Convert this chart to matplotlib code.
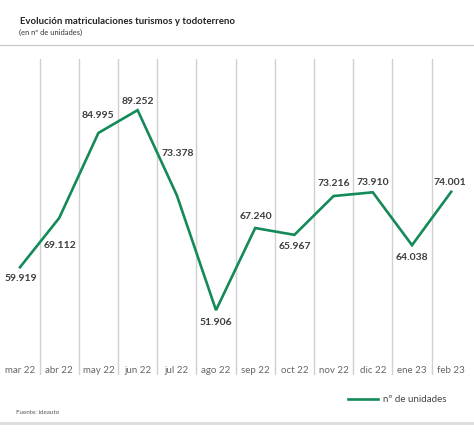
import matplotlib
matplotlib.use("Agg")
from matplotlib import pyplot as plt
from matplotlib.lines import Line2D

months = ["mar 22", "abr 22", "may 22", "jun 22", "jul 22", "ago 22",
          "sep 22", "oct 22", "nov 22", "dic 22", "ene 23", "feb 23"]
units = [59.919, 69.112, 84.995, 89.252, 73.378, 51.906,
         67.240, 65.967, 73.216, 73.910, 64.038, 74.001]
value_labels = ["59.919", "69.112", "84.995", "89.252", "73.378", "51.906",
                "67.240", "65.967", "73.216", "73.910", "64.038", "74.001"]

# label offsets in pixels (dx, dy)
label_offsets = [(1, -11), (1, -27), (0, 17), (0, 9), (1, 42), (0, -12),
                 (1, 12), (0, -12), (0, 13), (0, 10), (0, -12), (-1, 9)]

green = "#138a58"
plt.rcParams["font.family"] = ["Lato", "DejaVu Sans"]

W, H = 474, 434
fig = plt.figure(figsize=(W / 100, H / 100), dpi=100)
ax = fig.add_axes([0.4 / W, 1 - 375 / H, 470.4 / W, 316 / H])

x = list(range(len(months)))
ax.plot(x, units, color=green, linewidth=1.9, solid_joinstyle="miter")
ax.set_xlim(-0.5, len(months) - 0.5)
ax.set_ylim(39.8, 98.8)

for xi, v, lab, (dx, dy) in zip(x, units, value_labels, label_offsets):
    ax.annotate(lab, (xi, v), xytext=(dx * 0.72, dy * 0.72), textcoords="offset points",
                ha="center", va="center", fontsize=7.5, fontweight="bold", color="#3d3d3d")

ax.set_xticks(x)
ax.set_xticklabels(months, fontsize=7, color="#666666")
ax.set_xticks([i + 0.5 for i in x[:-1]], minor=True)
ax.tick_params(axis="x", which="both", length=0, pad=-6.4)
ax.grid(True, which="minor", axis="x", color="#d0d0d0", linewidth=1)
ax.set_yticks([])
for s in ax.spines.values():
    s.set_visible(False)

fig.text(20 / W, 1 - 22 / H, "Evolución matriculaciones turismos y todoterreno",
         fontsize=6.9, fontweight="bold", color="#222222", va="center")
fig.text(19 / W, 1 - 32 / H, "(en nº de unidades)", fontsize=5.4, color="#333333", va="center")
fig.add_artist(Line2D([0, 1], [1 - 45 / H, 1 - 45 / H], color="#cccccc", linewidth=1))
fig.add_artist(Line2D([0, 1], [1 - 423 / H, 1 - 423 / H], color="#dddddd", linewidth=2))

fig.add_artist(Line2D([348 / W, 378 / W], [1 - 399 / H, 1 - 399 / H], color=green, linewidth=1.9))
fig.text(383 / W, 1 - 399 / H, "nº de unidades", fontsize=7.0, color="#444444", va="center")
fig.text(16 / W, 1 - 413 / H, "Fuente: ideauto", fontsize=4.5, color="#555555", va="center")

fig.savefig("out.png", dpi=100)
